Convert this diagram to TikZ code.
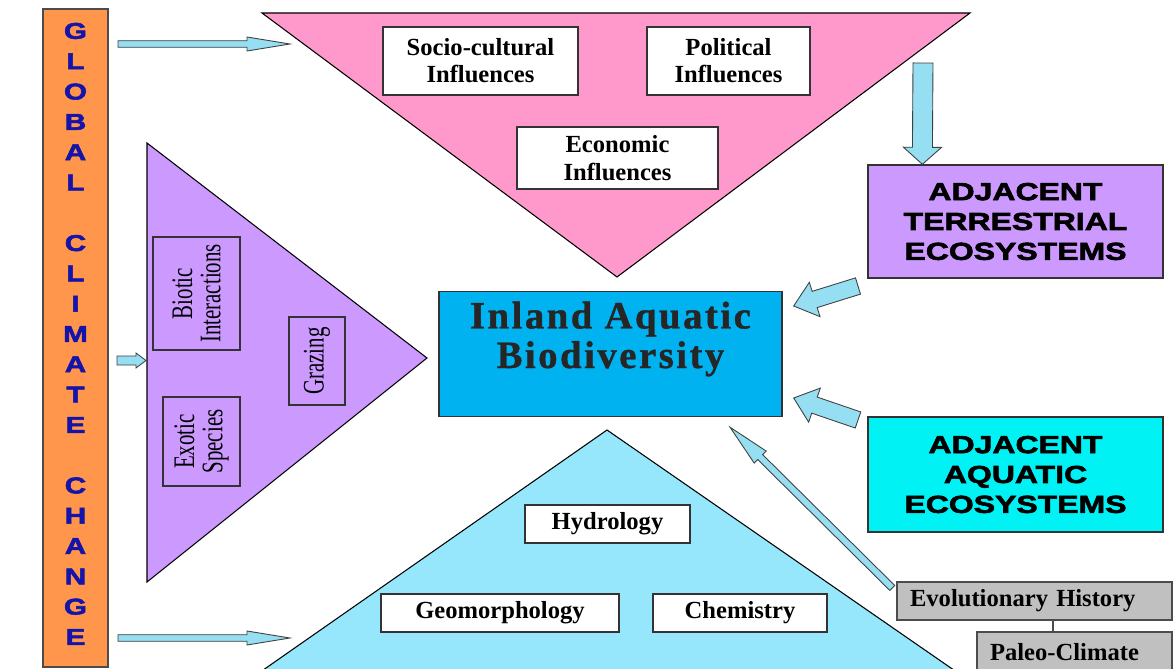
\documentclass[tikz,border=0pt]{standalone}
\usepackage{fontspec}
\setmainfont{Liberation Serif}
\newfontfamily\capsfont[FakeStretch=1.3,FakeBold=2.5]{Liberation Sans}
\newfontfamily\narrowfont[FakeStretch=0.7]{Liberation Serif}
\newfontfamily\titlefont[LetterSpace=6.6,FakeBold=1]{Liberation Serif}
\usetikzlibrary{calc}

\definecolor{barorange}{RGB}{255,150,75}
\definecolor{inflpink}{RGB}{255,153,204}
\definecolor{lavender}{RGB}{204,153,255}
\definecolor{mainblue}{RGB}{0,178,240}
\definecolor{aquabox}{RGB}{0,242,245}
\definecolor{lightsky}{RGB}{150,230,252}
\definecolor{arrowblue}{RGB}{150,222,242}
\definecolor{lettblue}{RGB}{20,20,170}
\definecolor{histgrey}{RGB}{192,192,192}

\tikzset{
  infbox/.style={draw=black!80, fill=white, line width=0.8pt, align=center,
    font=\bfseries\fontsize{14}{15.5}\selectfont},
  capsbox/.style={draw=black!80, line width=0.8pt, align=center,
    minimum width=5.9cm, font=\capsfont\bfseries\fontsize{14}{17}\selectfont},
  rotbox/.style={draw=black!80, line width=0.8pt, rotate=90, align=center,
    inner sep=1pt, font=\narrowfont\fontsize{17}{16}\selectfont},
  greybox/.style={draw=black!70, fill=histgrey, line width=0.8pt, align=left,
    inner xsep=0.26cm, minimum height=0.76cm, font=\bfseries\fontsize{14}{15.5}\selectfont},
  arrowline/.style={draw=black!75, fill=arrowblue, line width=0.5pt},
}

% block arrow: tail, tip, half shaft, half head, head length
\newcommand\blockarrow[5]{
  \coordinate (hb) at ($(#2)!#5!(#1)$);
  \draw[arrowline] ($(#1)!#3!90:(#2)$) -- ($(hb)!#3!90:(#2)$) -- ($(hb)!#4!90:(#2)$)
    -- (#2) -- ($(hb)!#4!-90:(#2)$) -- ($(hb)!#3!-90:(#2)$) -- ($(#1)!#3!-90:(#2)$) -- cycle;
}

\begin{document}
\begin{tikzpicture}[x=0.02cm, y=-0.02cm]
\useasboundingbox (0,0) rectangle (1174,669);
\clip (0,0) rectangle (1174,669);

% global climate change bar
\node[draw=black!70, fill=barorange, line width=0.8pt, minimum width=1.3cm, minimum height=13.16cm] (global) at (75.5,338) {};
\foreach \ch [count=\i] in {G,L,O,B,A,L,{},C,L,I,M,A,T,E,{},C,H,A,N,G,E}
{
    \node[text=lettblue, font=\capsfont\bfseries\fontsize{13}{13}\selectfont, inner sep=0pt] (lett\i) at (75.5,{31+30.3*(\i-1)}) {\ch};
}

% influences
\draw[fill=inflpink, line width=0.6pt] (262,13) -- (970,13) -- (617,277) -- cycle;
\node[infbox, minimum width=3.9cm, minimum height=1.36cm] (socio) at (480.5,61) {Socio-cultural\\Influences};
\node[infbox, minimum width=3.26cm, minimum height=1.36cm] (polit) at (728.5,61) {Political\\Influences};
\node[infbox, minimum width=4.02cm, minimum height=1.24cm] (econ) at (617.5,158) {Economic\\Influences};

% biotic part
\draw[fill=lavender, line width=0.6pt] (147,143) -- (427,358) -- (147,582) -- cycle;
\node[rotbox, minimum width=2.26cm, minimum height=1.74cm] (biotic) at (196.5,293.5) {Biotic\\Interactions};
\node[rotbox, minimum width=1.76cm, minimum height=1.12cm] (grazing) at (317,361) {Grazing};
\node[rotbox, minimum width=1.78cm, minimum height=1.54cm] (exotic) at (201.5,441.5) {Exotic\\Species};

% physical part
\draw[fill=lightsky, line width=0.6pt] (607,430) -- (961,675) -- (256,675) -- cycle;
\node[infbox, minimum width=3.3cm, minimum height=0.76cm] (hydro) at (607.5,524) {Hydrology};
\node[infbox, minimum width=4.76cm, minimum height=0.76cm] (geomorph) at (500,613) {Geomorphology};
\node[infbox, minimum width=3.48cm, minimum height=0.76cm] (chem) at (740,613) {Chemistry};

% centre
\node[draw=black!80, fill=mainblue, line width=0.8pt, minimum width=6.86cm, minimum height=2.5cm] (bio) at (610.5,354) {};
\node[align=center, text=black!85, font=\titlefont\bfseries\fontsize{22}{22.5}\selectfont] (biotitle) at (610.5,339) {Inland Aquatic\\Biodiversity};

\node[capsbox, fill=lavender, minimum height=2.26cm] (terr) at (1015.5,221.5) {ADJACENT\\TERRESTRIAL\\ECOSYSTEMS};
\node[capsbox, fill=aquabox, minimum height=2.3cm] (aqua) at (1015.5,474.5) {ADJACENT\\AQUATIC\\ECOSYSTEMS};

\node[greybox, text width=4.98cm] (evol) at (1034.5,601) {Evolutionary History};
\node[greybox, text width=3.38cm, minimum height=0.8cm] (paleo) at (1074.5,652) {Paleo-Climate};
\coordinate (link) at (1053,0);
\draw[line width=0.8pt, black!70] (evol.south -| link) -- (paleo.north -| link);

% arrows
\coordinate (ga1) at (118,44);   \coordinate (ga2) at (290,44);
\coordinate (gb1) at (118,638);  \coordinate (gb2) at (290,638);
\coordinate (gc1) at (117,360.5);\coordinate (gc2) at (146,360.5);
\coordinate (da1) at (923,63);   \coordinate (da2) at ($(terr.north west)+(55,0)$);
\coordinate (ta1) at (858,286);  \coordinate (ta2) at ($(bio.east)+(11,-48)$);
\coordinate (qa1) at (858,420);  \coordinate (qa2) at ($(bio.east)+(11,44)$);
\coordinate (ea1) at ($(evol.west)+(-4,-13)$); \coordinate (ea2) at ($(bio.south)+(119.5,10)$);
\blockarrow{ga1}{ga2}{0.066cm}{0.14cm}{0.86cm}
\blockarrow{gb1}{gb2}{0.066cm}{0.14cm}{0.86cm}
\blockarrow{gc1}{gc2}{0.09cm}{0.15cm}{0.2cm}
\blockarrow{da1}{da2}{0.2cm}{0.38cm}{0.34cm}
\blockarrow{ta1}{ta2}{0.17cm}{0.36cm}{0.44cm}
\blockarrow{qa1}{qa2}{0.17cm}{0.36cm}{0.44cm}
\blockarrow{ea1}{ea2}{0.07cm}{0.17cm}{0.85cm}
\end{tikzpicture}
\end{document}
